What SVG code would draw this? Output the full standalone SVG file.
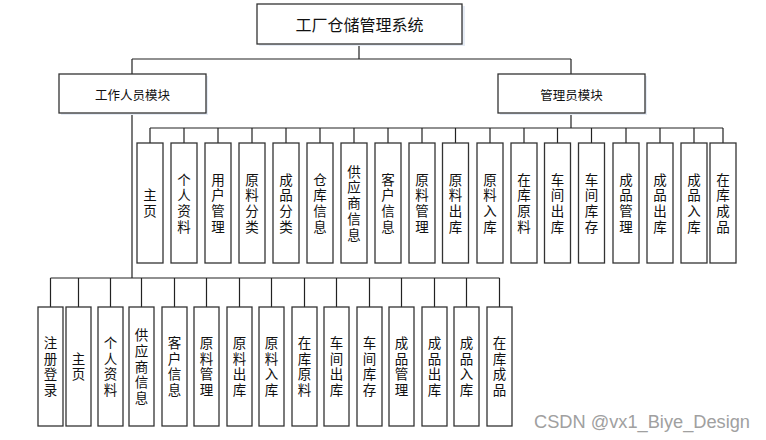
<svg xmlns="http://www.w3.org/2000/svg" width="766" height="440" viewBox="0 0 766 440">
<defs>
<style>
.box{fill:#fff;stroke:#333;stroke-width:1.3}
.sh{fill:#e6ecf5}
.t{font-family:"Noto Sans CJK SC","Liberation Sans",sans-serif;fill:#111;text-anchor:middle;dominant-baseline:central}
.v{font-size:13.5px;writing-mode:vertical-rl;text-orientation:upright;letter-spacing:2.2px}
.ln{stroke:#222;stroke-width:1.2;fill:none}
</style>
</defs>
<rect width="766" height="440" fill="#fff"/>
<g id="connectors">
<path class="ln" d="M359 44V59M132 59H571M132 59V74M571 59V74"/>
<path class="ln" d="M571 113V128M150 128H723M150 128V143M184 128V143M218 128V143M252 128V143M286 128V143M320 128V143M354 128V143M388 128V143M422 128V143M455.5 128V143M490 128V143M524 128V143M557.5 128V143M591.5 128V143M626 128V143M660 128V143M694 128V143M723 128V143"/>
<path class="ln" d="M132 113V278M50.5 278H499.5M50.5 278V307M78.5 278V307M110.5 278V307M141.5 278V307M174.5 278V307M206.5 278V307M239.5 278V307M271.5 278V307M304.5 278V307M336.5 278V307M369.5 278V307M401.5 278V307M434.5 278V307M466.5 278V307M499.5 278V307"/>
</g>
<g id="root"><rect class="sh" x="259" y="6" width="206" height="40"/><rect class="box" x="257" y="4" width="205" height="40"/><text class="t" x="359.5" y="24" font-size="16">工厂仓储管理系统</text></g>
<g id="staff"><rect class="sh" x="61" y="76" width="147" height="39"/><rect class="box" x="59" y="74" width="147" height="39"/><text class="t" x="132.5" y="94" font-size="12.5">工作人员模块</text></g>
<g id="admin"><rect class="sh" x="500" y="76" width="147" height="39"/><rect class="box" x="498" y="74" width="147" height="39"/><text class="t" x="571.5" y="94" font-size="12.5">管理员模块</text></g>

<g id="a1"><rect class="box" x="137" y="143" width="26" height="120"/><text class="t v" x="150" y="204.1">主页</text></g>
<g id="a2"><rect class="box" x="171" y="143" width="26" height="120"/><text class="t v" x="184" y="204.1">个人资料</text></g>
<g id="a3"><rect class="box" x="205" y="143" width="26" height="120"/><text class="t v" x="218" y="204.1">用户管理</text></g>
<g id="a4"><rect class="box" x="239" y="143" width="26" height="120"/><text class="t v" x="252" y="204.1">原料分类</text></g>
<g id="a5"><rect class="box" x="273" y="143" width="26" height="120"/><text class="t v" x="286" y="204.1">成品分类</text></g>
<g id="a6"><rect class="box" x="307" y="143" width="26" height="120"/><text class="t v" x="320" y="204.1">仓库信息</text></g>
<g id="a7"><rect class="box" x="341" y="143" width="26" height="120"/><text class="t v" x="354" y="204.1">供应商信息</text></g>
<g id="a8"><rect class="box" x="375" y="143" width="26" height="120"/><text class="t v" x="388" y="204.1">客户信息</text></g>
<g id="a9"><rect class="box" x="409" y="143" width="26" height="120"/><text class="t v" x="422" y="204.1">原料管理</text></g>
<g id="a10"><rect class="box" x="442.5" y="143" width="26" height="120"/><text class="t v" x="455.5" y="204.1">原料出库</text></g>
<g id="a11"><rect class="box" x="477" y="143" width="26" height="120"/><text class="t v" x="490" y="204.1">原料入库</text></g>
<g id="a12"><rect class="box" x="511" y="143" width="26" height="120"/><text class="t v" x="524" y="204.1">在库原料</text></g>
<g id="a13"><rect class="box" x="544.5" y="143" width="26" height="120"/><text class="t v" x="557.5" y="204.1">车间出库</text></g>
<g id="a14"><rect class="box" x="578.5" y="143" width="26" height="120"/><text class="t v" x="591.5" y="204.1">车间库存</text></g>
<g id="a15"><rect class="box" x="613" y="143" width="26" height="120"/><text class="t v" x="626" y="204.1">成品管理</text></g>
<g id="a16"><rect class="box" x="647" y="143" width="26" height="120"/><text class="t v" x="660" y="204.1">成品出库</text></g>
<g id="a17"><rect class="box" x="681" y="143" width="26" height="120"/><text class="t v" x="694" y="204.1">成品入库</text></g>
<g id="a18"><rect class="box" x="710" y="143" width="26" height="120"/><text class="t v" x="723" y="204.1">在库成品</text></g>

<g id="s1"><rect class="box" x="38" y="307" width="25" height="119"/><text class="t v" x="50.5" y="367.6">注册登录</text></g>
<g id="s2"><rect class="box" x="66" y="307" width="25" height="119"/><text class="t v" x="78.5" y="367.6">主页</text></g>
<g id="s3"><rect class="box" x="98" y="307" width="25" height="119"/><text class="t v" x="110.5" y="367.6">个人资料</text></g>
<g id="s4"><rect class="box" x="129" y="307" width="25" height="119"/><text class="t v" x="141.5" y="367.6">供应商信息</text></g>
<g id="s5"><rect class="box" x="162" y="307" width="25" height="119"/><text class="t v" x="174.5" y="367.6">客户信息</text></g>
<g id="s6"><rect class="box" x="194" y="307" width="25" height="119"/><text class="t v" x="206.5" y="367.6">原料管理</text></g>
<g id="s7"><rect class="box" x="227" y="307" width="25" height="119"/><text class="t v" x="239.5" y="367.6">原料出库</text></g>
<g id="s8"><rect class="box" x="259" y="307" width="25" height="119"/><text class="t v" x="271.5" y="367.6">原料入库</text></g>
<g id="s9"><rect class="box" x="292" y="307" width="25" height="119"/><text class="t v" x="304.5" y="367.6">在库原料</text></g>
<g id="s10"><rect class="box" x="324" y="307" width="25" height="119"/><text class="t v" x="336.5" y="367.6">车间出库</text></g>
<g id="s11"><rect class="box" x="357" y="307" width="25" height="119"/><text class="t v" x="369.5" y="367.6">车间库存</text></g>
<g id="s12"><rect class="box" x="389" y="307" width="25" height="119"/><text class="t v" x="401.5" y="367.6">成品管理</text></g>
<g id="s13"><rect class="box" x="422" y="307" width="25" height="119"/><text class="t v" x="434.5" y="367.6">成品出库</text></g>
<g id="s14"><rect class="box" x="454" y="307" width="25" height="119"/><text class="t v" x="466.5" y="367.6">成品入库</text></g>
<g id="s15"><rect class="box" x="487" y="307" width="25" height="119"/><text class="t v" x="499.5" y="367.6">在库成品</text></g>

<text x="534" y="428" font-family="'Liberation Sans',Arial,sans-serif" font-size="18" fill="#a0a0a0" textLength="216" lengthAdjust="spacingAndGlyphs">CSDN @vx1_Biye_Design</text>
</svg>
